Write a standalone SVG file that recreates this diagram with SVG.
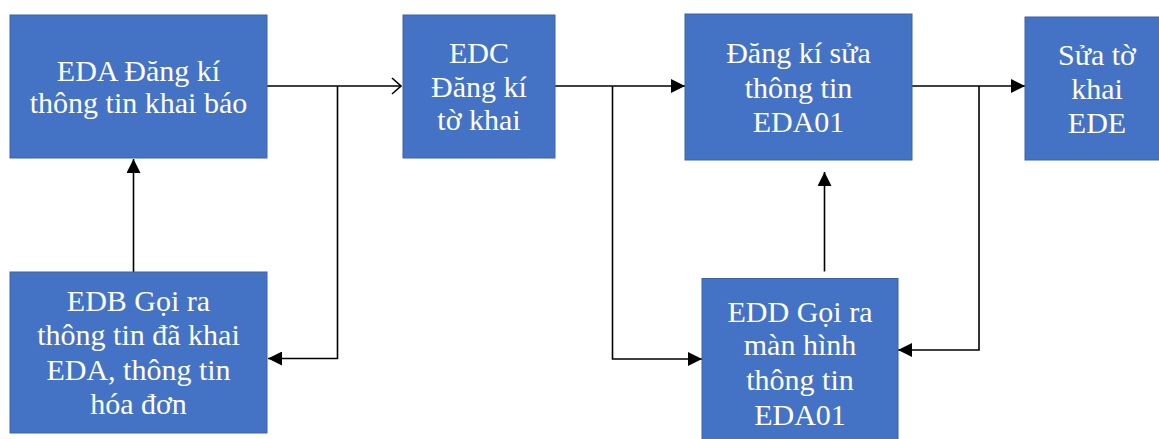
<svg xmlns="http://www.w3.org/2000/svg" width="1159" height="439" viewBox="0 0 1159 439">
<style>
.box{fill:#4472c4;stroke:#3b63a8;stroke-width:1}
.t{font-family:"Liberation Serif","Times New Roman",serif;font-size:30px;fill:#ffffff;text-anchor:middle}
.c{fill:none;stroke:#000;stroke-width:1.6}
</style>
<defs>
<marker id="fa" markerUnits="userSpaceOnUse" markerWidth="14" markerHeight="14" refX="14" refY="7" orient="auto">
<path d="M0,0 L14,7 L0,14 z" fill="#000"/>
</marker>
<marker id="oa" markerUnits="userSpaceOnUse" markerWidth="12" markerHeight="18" refX="10" refY="9" orient="auto">
<path d="M1,1 L10,9 L1,17" fill="none" stroke="#000" stroke-width="1.6"/>
</marker>
</defs>
<rect width="1159" height="439" fill="#fff"/>
<g id="connectors">
<path class="c" d="M267,86 H401" marker-end="url(#oa)"/>
<path class="c" d="M337.5,86 V358.5 H268" marker-end="url(#fa)"/>
<path class="c" d="M133.5,272 V159" marker-end="url(#fa)"/>
<path class="c" d="M555,86 H685" marker-end="url(#fa)"/>
<path class="c" d="M612.5,86 V359 H702" marker-end="url(#fa)"/>
<path class="c" d="M824.5,271.5 V172" marker-end="url(#fa)"/>
<path class="c" d="M912,86 H1025" marker-end="url(#fa)"/>
<path class="c" d="M979,86 V350 H898" marker-end="url(#fa)"/>
</g>
<g id="eda">
<rect class="box" x="10" y="15" width="257" height="143"/>
<text class="t" x="138.5" y="80.5">EDA Đăng kí</text>
<text class="t" x="138.5" y="113.3">thông tin khai báo</text>
</g>
<g id="edc">
<rect class="box" x="403" y="15" width="152" height="143"/>
<text class="t" x="479" y="63.3">EDC</text>
<text class="t" x="479" y="96.7">Đăng kí</text>
<text class="t" x="479" y="130">tờ khai</text>
</g>
<g id="eda01">
<rect class="box" x="685" y="14" width="227" height="146"/>
<text class="t" x="798.5" y="63.3">Đăng kí sửa</text>
<text class="t" x="798.5" y="98">thông tin</text>
<text class="t" x="798.5" y="132.3">EDA01</text>
</g>
<g id="ede">
<rect class="box" x="1025" y="17" width="150" height="143"/>
<text class="t" x="1097" y="65">Sửa tờ</text>
<text class="t" x="1097" y="98.5">khai</text>
<text class="t" x="1097" y="133">EDE</text>
</g>
<g id="edb">
<rect class="box" x="10" y="272" width="257" height="161"/>
<text class="t" x="138.5" y="311">EDB Gọi ra</text>
<text class="t" x="138.5" y="345">thông tin đã khai</text>
<text class="t" x="138.5" y="380">EDA, thông tin</text>
<text class="t" x="138.5" y="414">hóa đơn</text>
</g>
<g id="edd">
<rect class="box" x="702" y="278.5" width="196" height="170"/>
<text class="t" x="800" y="321.7">EDD Gọi ra</text>
<text class="t" x="800" y="355">màn hình</text>
<text class="t" x="800" y="390">thông tin</text>
<text class="t" x="800" y="425">EDA01</text>
</g>
</svg>
